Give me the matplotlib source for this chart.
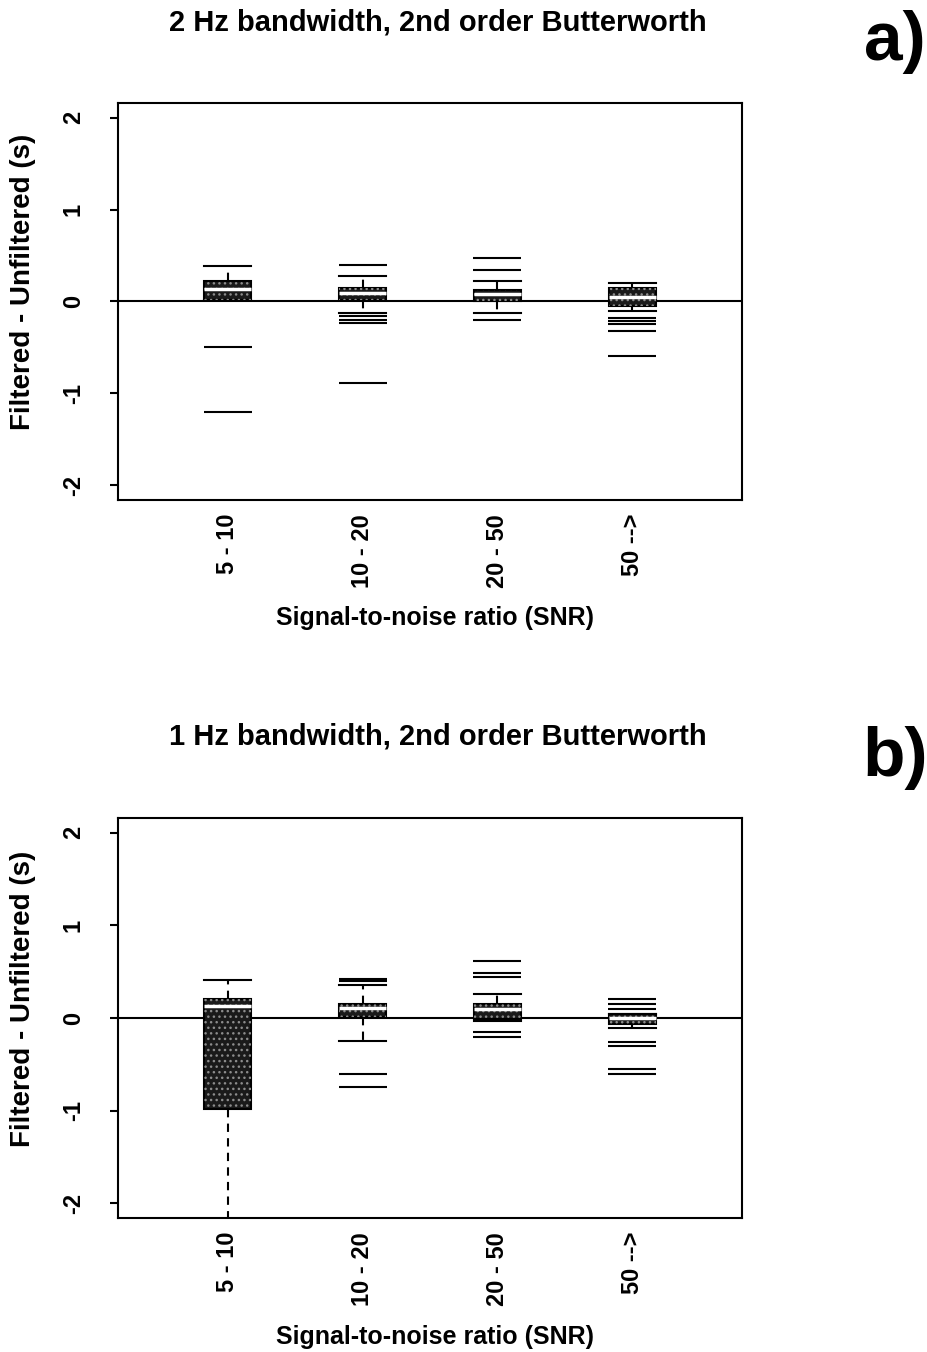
import numpy as np
import matplotlib.pyplot as plt
from matplotlib.patches import PathPatch

plt.rcParams['font.family'] = ['Liberation Sans', 'DejaVu Sans']
plt.rcParams['font.weight'] = 'bold'
plt.rcParams['axes.unicode_minus'] = False

snr_labels = ["5 - 10", "10 - 20", "20 - 50", "50 -->"]

# panel a: 2 Hz bandwidth
a_whislo = [0.02, -0.12, -0.12, -0.105]
a_q1 = [0.02, 0.02, 0.00, -0.05]
a_med = [0.14, 0.09, 0.08, 0.05]
a_q3 = [0.22, 0.145, 0.13, 0.145]
a_whishi = [0.39, 0.28, 0.22, 0.20]
a_fliers = [
    [-0.50, -1.20],
    [0.40, -0.16, -0.20, -0.235, -0.89],
    [0.47, 0.34, -0.20],
    [-0.18, -0.21, -0.24, -0.32, -0.59],
]

# panel b: 1 Hz bandwidth
b_whislo = [-2.4, -0.245, -0.03, -0.11]
b_q1 = [-0.98, 0.01, -0.01, -0.07]
b_med = [0.125, 0.105, 0.10, 0.0]
b_q3 = [0.21, 0.155, 0.155, 0.045]
b_whishi = [0.41, 0.355, 0.255, 0.045]
b_fliers = [
    [],
    [0.42, 0.40, -0.60, -0.75],
    [0.61, 0.49, 0.44, -0.155, -0.20],
    [0.20, 0.15, 0.10, -0.255, -0.30, -0.555, -0.60],
]

BOX_W = 0.35


def draw_panel(ax, whislo, q1, med, q3, whishi, fliers):
    stats = []
    for i in range(len(snr_labels)):
        stats.append(dict(whislo=whislo[i], q1=q1[i], med=med[i], q3=q3[i],
                          whishi=whishi[i], fliers=np.array(fliers[i])))
    pos = np.arange(1, len(stats) + 1)
    res = ax.bxp(stats, positions=pos, widths=BOX_W, capwidths=BOX_W,
                 patch_artist=True, showfliers=True,
                 boxprops=dict(facecolor='0.1', edgecolor='black', linewidth=1.5),
                 medianprops=dict(color='white', linewidth=2.5),
                 whiskerprops=dict(color='black', linewidth=1.5, linestyle=(0, (4, 3))),
                 capprops=dict(color='black', linewidth=1.5),
                 flierprops=dict(marker='_', markersize=34, markeredgewidth=1.5,
                                 markeredgecolor='black'))
    # stipple on the boxes
    for b in res['boxes']:
        ax.add_patch(PathPatch(b.get_path(), facecolor='none', edgecolor='0.55',
                               hatch='...', linewidth=0, zorder=b.get_zorder()))
    ax.axhline(0, color='black', linewidth=1.5, zorder=1)
    ax.set_xlim(0.185, 4.815)
    ax.set_ylim(-2.16, 2.16)
    ax.set_yticks([-2, -1, 0, 1, 2])
    ax.set_xticks(pos)
    ax.set_xticklabels(snr_labels, rotation=90, fontsize=17, fontweight='bold')
    ax.tick_params(axis='x', length=0, pad=10)
    ax.tick_params(axis='y', length=6, width=1.5, pad=18, labelsize=17,
                   labelrotation=90)
    for t in ax.get_yticklabels():
        t.set_va('center')
        t.set_fontweight('bold')
    for s in ax.spines.values():
        s.set_linewidth(1.5)
    ax.set_ylabel("Filtered - Unfiltered (s)", fontsize=20, fontweight='bold')
    ax.yaxis.label.set_va('center')
    ax.yaxis.set_label_coords(-0.152, 0.549)
    ax.set_xlabel("Signal-to-noise ratio (SNR)", fontsize=18, fontweight='bold')
    ax.xaxis.label.set_va('center')
    ax.xaxis.set_label_coords(0.508, -0.297)


fig = plt.figure(figsize=(9.27, 13.52), dpi=100)
ax_a = fig.add_axes([0.1273, 0.6302, 0.6731, 0.2936])
ax_b = fig.add_axes([0.1273, 0.0991, 0.6731, 0.2959])

draw_panel(ax_a, a_whislo, a_q1, a_med, a_q3, a_whishi, a_fliers)
draw_panel(ax_b, b_whislo, b_q1, b_med, b_q3, b_whishi, b_fliers)

fig.text(0.4725, 0.9837, "2 Hz bandwidth, 2nd order Butterworth",
         ha='center', va='center', fontsize=21, fontweight='bold')
fig.text(0.9655, 0.969, "a)", ha='center', va='center', fontsize=50, fontweight='bold')
fig.text(0.4725, 0.4549, "1 Hz bandwidth, 2nd order Butterworth",
         ha='center', va='center', fontsize=21, fontweight='bold')
fig.text(0.9655, 0.439, "b)", ha='center', va='center', fontsize=50, fontweight='bold')

fig.savefig("out.png", dpi=100)
